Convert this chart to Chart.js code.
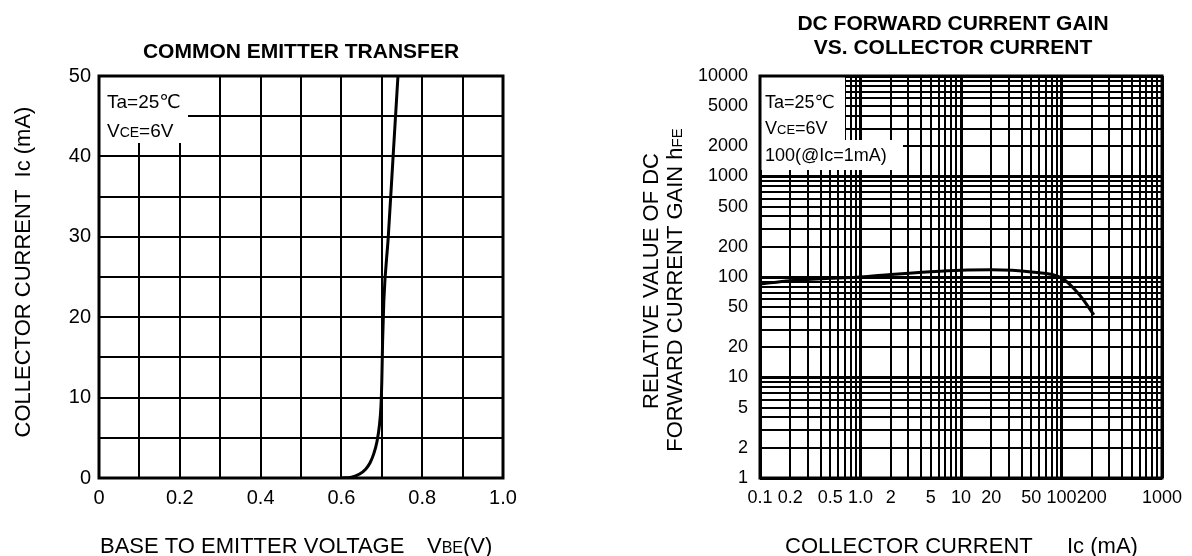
<!DOCTYPE html>
<html><head><meta charset="utf-8">
<script src="https://cdn.jsdelivr.net/npm/chart.js@4/dist/chart.umd.min.js"></script>
<style>
html,body{margin:0;padding:0;background:#fff;width:1192px;height:556px;overflow:hidden}
#c1{position:absolute;left:0;top:0}
#c2{position:absolute;left:600px;top:0}
</style></head><body>
<canvas id="c1" width="600" height="556"></canvas>
<canvas id="c2" width="592" height="556"></canvas>
<script>
// ---------- data: common emitter transfer ----------
const vbeVolts   = [0.600, 0.625, 0.645, 0.660, 0.671, 0.680, 0.688, 0.694, 0.698, 0.700, 0.702, 0.705, 0.716, 0.728, 0.740];
const icTransfer = [0,     0.1,   0.5,   1.1,   1.9,   3.0,   4.5,   6.5,   9.0,   12,    17,    22,    30,    40,    50];
const leftXTickLabels = ['0', '0.2', '0.4', '0.6', '0.8', '1.0'];
const leftYTickLabels = ['0', '10', '20', '30', '40', '50'];

// ---------- data: DC forward current gain ----------
const icGain      = [0.1, 0.2, 0.5, 1,   2,   5,   10,  20,  50,  100, 150, 210];
const hfeRelative = [85,  92,  97,  100, 106, 113, 117, 118, 112, 98,  67,  42];
const rightXTickValues = [0.1, 0.2, 0.5, 1, 2, 5, 10, 20, 50, 100, 200, 1000];
const rightXTickLabels = ['0.1', '0.2', '0.5', '1.0', '2', '5', '10', '20', '50', '100', '200', '1000'];
const rightYTickValues = [1, 2, 5, 10, 20, 50, 100, 200, 500, 1000, 2000, 5000, 10000];
const rightYTickLabels = ['1', '2', '5', '10', '20', '50', '100', '200', '500', '1000', '2000', '5000', '10000'];

const FONT = '"Liberation Sans", Arial, "DejaVu Sans", sans-serif';

function logGrid(min, max) {
  const out = [];
  for (let d = Math.round(Math.log10(min)); d < Math.round(Math.log10(max)); d++) {
    for (let m = 1; m <= 9; m++) out.push(+(m * Math.pow(10, d)).toPrecision(6));
  }
  out.push(max);
  return out;
}
function isDecade(v) {
  if (!(v > 0)) return false;
  const l = Math.log10(v);
  return Math.abs(l - Math.round(l)) < 1e-6;
}
function labelFor(vals, labels, v) {
  for (let i = 0; i < vals.length; i++) if (Math.abs(vals[i] - v) / vals[i] < 1e-6) return labels[i];
  return '';
}
// draws text made of segments [{t, size, bold}] starting at x (left) with baseline y
function drawRich(ctx, x, y, segs, align) {
  let w = 0;
  segs.forEach(s => { ctx.font = (s.bold ? 'bold ' : '') + s.size + 'px ' + FONT; s.w = ctx.measureText(s.t).width; w += s.w; });
  let cx = align === 'center' ? x - w / 2 : x;
  ctx.textAlign = 'left'; ctx.textBaseline = 'alphabetic'; ctx.fillStyle = '#000';
  segs.forEach(s => { ctx.font = (s.bold ? 'bold ' : '') + s.size + 'px ' + FONT; ctx.fillText(s.t, cx, y); cx += s.w; });
}

// ---------- left chart ----------
const leftDecor = {
  id: 'leftDecor',
  beforeDatasetsDraw(chart) {
    const { ctx, chartArea: a } = chart;
    ctx.save();
    ctx.fillStyle = '#fff';
    ctx.fillRect(a.left, a.top, 89, 67);
    ctx.strokeStyle = '#000'; ctx.lineWidth = 3;
    ctx.strokeRect(a.left, a.top, a.right - a.left, a.bottom - a.top);
    drawRich(ctx, a.left + 8, 108, [{ t: 'Ta=25℃', size: 19 }]);
    drawRich(ctx, a.left + 8, 137, [{ t: 'V', size: 19 }, { t: 'CE', size: 14 }, { t: '=6V', size: 19 }]);
    ctx.restore();
  },
  afterDraw(chart) {
    const { ctx, chartArea: a } = chart;
    ctx.save();
    drawRich(ctx, (a.left + a.right) / 2, 58, [{ t: 'COMMON EMITTER TRANSFER', size: 21, bold: true }], 'center');
    drawRich(ctx, 100, 553, [{ t: 'BASE TO EMITTER VOLTAGE', size: 22 }]);
    drawRich(ctx, 427, 553, [{ t: 'V', size: 22 }, { t: 'BE', size: 16 }, { t: '(V)', size: 22 }]);
    ctx.translate(30, 272); ctx.rotate(-Math.PI / 2);
    drawRich(ctx, 0, 0, [{ t: 'COLLECTOR CURRENT  Ic (mA)', size: 22 }], 'center');
    ctx.restore();
  }
};

new Chart(document.getElementById('c1'), {
  type: 'line',
  data: { datasets: [{
    data: vbeVolts.map((v, i) => ({ x: v, y: icTransfer[i] })),
    borderColor: '#000', borderWidth: 3, pointRadius: 0, cubicInterpolationMode: 'monotone', fill: false
  }] },
  options: {
    responsive: false, animation: false, devicePixelRatio: 1,
    layout: { padding: { top: 76, left: 0, right: 97, bottom: 0 } },
    plugins: { legend: { display: false }, tooltip: { enabled: false }, title: { display: false } },
    scales: {
      x: {
        type: 'linear', min: 0, max: 1,
        border: { display: false },
        grid: { color: '#000', lineWidth: 2, drawTicks: false },
        ticks: {
          stepSize: 0.1, autoSkip: false, maxRotation: 0, padding: 8, color: '#000',
          font: { family: FONT, size: 20 },
          callback: (v) => { const k = Math.round(v * 10); return k % 2 === 0 ? leftXTickLabels[k / 2] : ''; }
        },
        afterFit: (s) => { s.height = 78; }
      },
      y: {
        type: 'linear', min: 0, max: 50,
        border: { display: false },
        grid: { color: '#000', lineWidth: 2, drawTicks: false },
        ticks: {
          stepSize: 5, autoSkip: false, padding: 8, color: '#000',
          font: { family: FONT, size: 20 },
          callback: (v) => { const k = Math.round(v / 5); return k % 2 === 0 ? leftYTickLabels[k / 2] : ''; }
        },
        afterFit: (s) => { s.width = 99; }
      }
    }
  },
  plugins: [leftDecor]
});

// ---------- right chart ----------
const rightDecor = {
  id: 'rightDecor',
  beforeDatasetsDraw(chart) {
    const { ctx, chartArea: a } = chart;
    ctx.save();
    ctx.fillStyle = '#fff';
    ctx.fillRect(a.left, a.top, 85, 64);
    ctx.fillRect(a.left, a.top + 64, 143, 30);
    ctx.strokeStyle = '#000'; ctx.lineWidth = 3;
    ctx.strokeRect(a.left, a.top, a.right - a.left, a.bottom - a.top);
    drawRich(ctx, a.left + 5, 108, [{ t: 'Ta=25℃', size: 18 }]);
    drawRich(ctx, a.left + 5, 134, [{ t: 'V', size: 18 }, { t: 'CE', size: 13 }, { t: '=6V', size: 18 }]);
    drawRich(ctx, a.left + 5, 161, [{ t: '100(@Ic=1mA)', size: 18 }]);
    ctx.restore();
  },
  afterDraw(chart) {
    const { ctx, chartArea: a } = chart;
    ctx.save();
    const cx = (a.left + a.right) / 2 - 8;
    drawRich(ctx, cx, 30, [{ t: 'DC FORWARD CURRENT GAIN', size: 21, bold: true }], 'center');
    drawRich(ctx, cx, 54, [{ t: 'VS. COLLECTOR CURRENT', size: 21, bold: true }], 'center');
    drawRich(ctx, 185, 553, [{ t: 'COLLECTOR CURRENT', size: 22 }]);
    drawRich(ctx, 467, 553, [{ t: 'Ic (mA)', size: 22 }]);
    ctx.save();
    ctx.translate(58, 281); ctx.rotate(-Math.PI / 2);
    drawRich(ctx, 0, 0, [{ t: 'RELATIVE VALUE OF DC', size: 22 }], 'center');
    ctx.restore();
    ctx.translate(82, 290); ctx.rotate(-Math.PI / 2);
    drawRich(ctx, 0, 0, [{ t: 'FORWARD CURRENT GAIN h', size: 22 }, { t: 'FE', size: 15 }], 'center');
    ctx.restore();
  }
};

const xGridVals = logGrid(0.1, 1000);
const yGridVals = logGrid(1, 10000);

new Chart(document.getElementById('c2'), {
  type: 'line',
  data: { datasets: [{
    data: icGain.map((v, i) => ({ x: v, y: hfeRelative[i] })),
    borderColor: '#000', borderWidth: 3, pointRadius: 0, cubicInterpolationMode: 'monotone', fill: false
  }] },
  options: {
    responsive: false, animation: false, devicePixelRatio: 1,
    layout: { padding: { top: 76, left: 0, right: 30, bottom: 0 } },
    plugins: { legend: { display: false }, tooltip: { enabled: false }, title: { display: false } },
    scales: {
      x: {
        type: 'logarithmic', min: 0.1, max: 1000,
        border: { display: false },
        grid: { color: '#000', lineWidth: (c) => isDecade(c.tick && c.tick.value) ? 3 : 2, drawTicks: false },
        afterBuildTicks: (s) => { s.ticks = xGridVals.map(v => ({ value: v })); },
        ticks: {
          autoSkip: false, maxRotation: 0, padding: 9, color: '#000',
          font: { family: FONT, size: 18 },
          callback: (v) => labelFor(rightXTickValues, rightXTickLabels, v)
        },
        afterFit: (s) => { s.height = 78; }
      },
      y: {
        type: 'logarithmic', min: 1, max: 10000,
        border: { display: false },
        grid: { color: '#000', lineWidth: (c) => isDecade(c.tick && c.tick.value) ? 3 : 2, drawTicks: false },
        afterBuildTicks: (s) => { s.ticks = yGridVals.map(v => ({ value: v })); },
        ticks: {
          autoSkip: false, padding: 12, color: '#000',
          font: { family: FONT, size: 18 },
          callback: (v) => labelFor(rightYTickValues, rightYTickLabels, v)
        },
        afterFit: (s) => { s.width = 160; }
      }
    }
  },
  plugins: [rightDecor]
});
</script>
</body></html>
